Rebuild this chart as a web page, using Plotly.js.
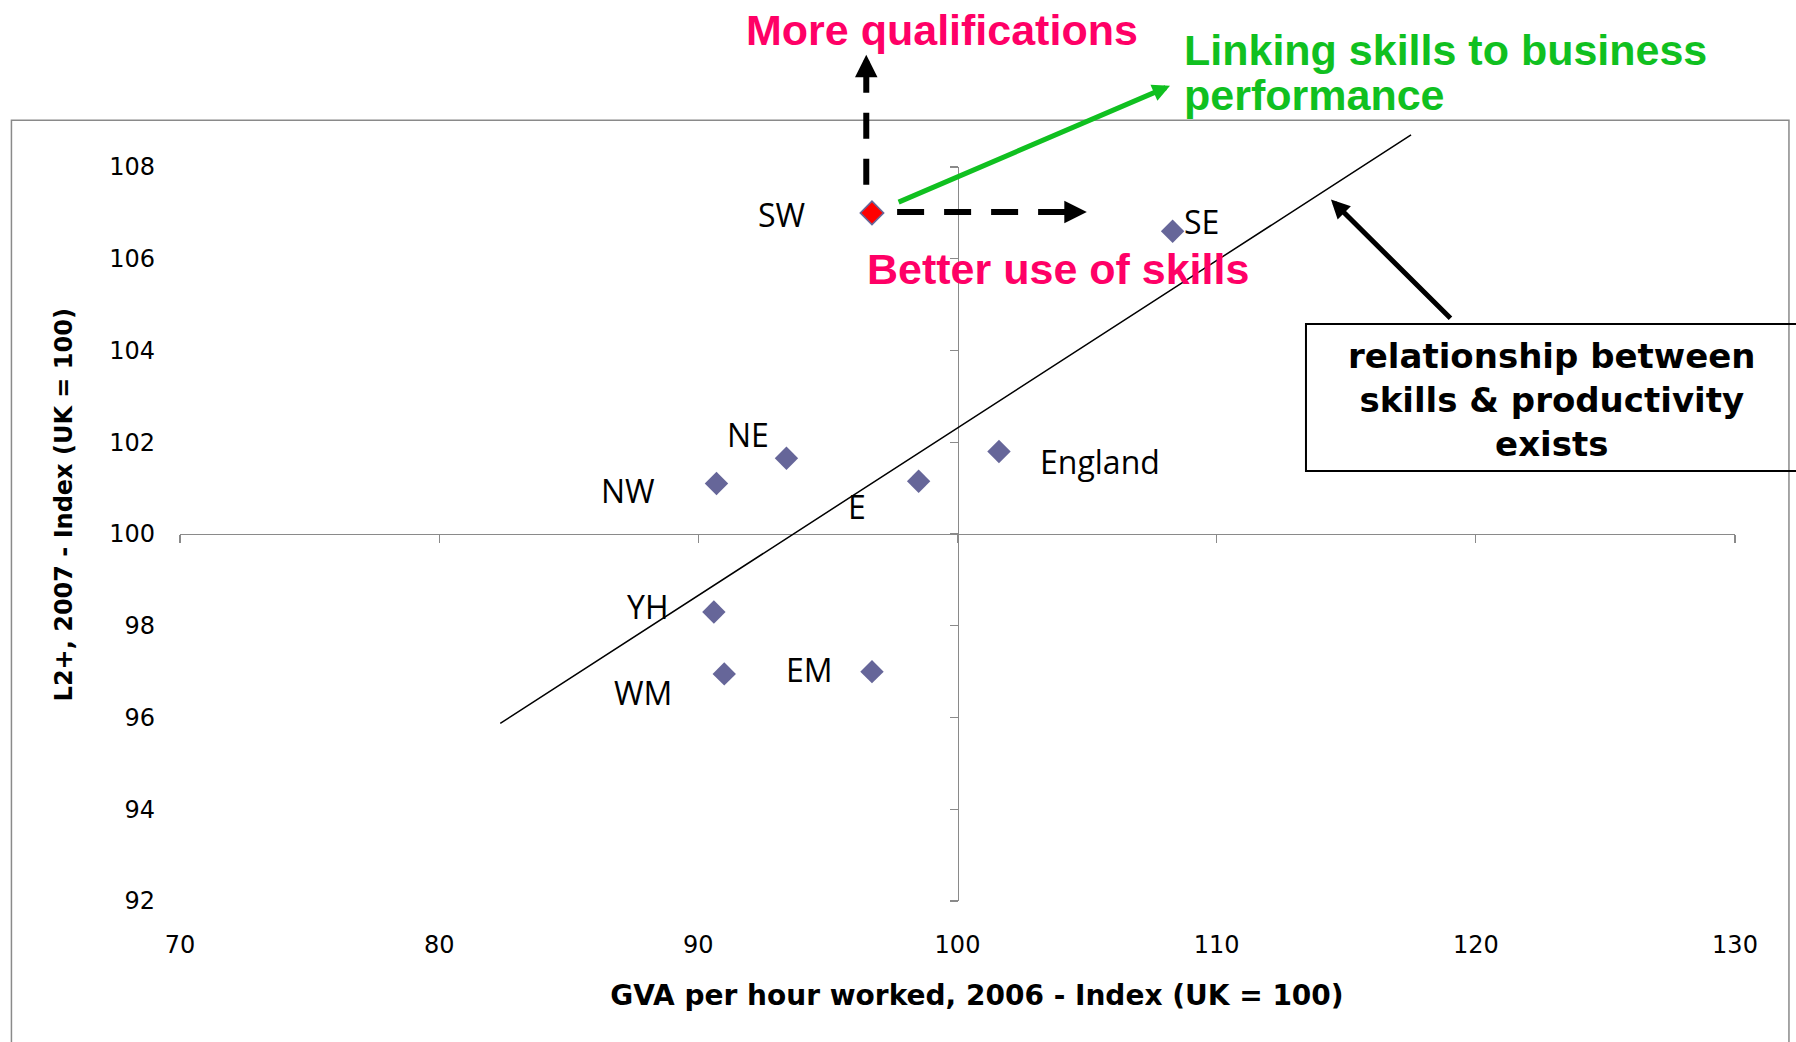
<!DOCTYPE html>
<html><head><meta charset="utf-8">
<script src="https://cdn.plot.ly/plotly-3.0.1.min.js"></script>
<style>html,body{margin:0;padding:0;background:#fff;} #chart{width:1796px;height:1042px;}</style>
</head><body><div id="chart"></div>
<script>
// ---- data ----
const regions  = ['SW', 'SE', 'NE', 'NW', 'E', 'England', 'YH', 'WM', 'EM'];
const gvaIndex = [96.7, 108.3, 93.4, 90.7, 98.5, 101.6, 90.6, 91.0, 96.7];
const l2Index  = [107.0, 106.6, 101.65, 101.1, 101.15, 101.8, 98.3, 96.95, 97.0];
const highlightedRegion = 'SW';
const trendX = [82.3, 117.5];
const trendY = [95.85, 108.7];
const xTicks = [70, 80, 90, 100, 110, 120, 130];
const yTicks = [92, 94, 96, 98, 100, 102, 104, 106, 108];
const xTitle = 'GVA per hour worked, 2006 - Index (UK = 100)';
const yTitle = 'L2+, 2007 - Index (UK = 100)';
const noteUp = 'More qualifications';
const noteRight = 'Better use of skills';
const noteLink = ['Linking skills to business', 'performance'];
const noteBox = 'relationship between<br>skills & productivity<br>exists';

// ---- label placement (pixel shifts from each point: [xshift, yshift], yshift up positive) ----
const labelShift = {
  'SW': [-90, -2], 'SE': [29, 10], 'NE': [-38, 24], 'NW': [-88, -7],
  'E': [-62, -25], 'England': [101, -10], 'YH': [-66, 5], 'WM': [-81, -19], 'EM': [-62, 2]
};

const BLUE = '#666699', RED = '#FF0000', AXIS = '#8a8a8a', PINK = '#FF0066', GREEN = '#10C020';
const X0 = 70, X1 = 130, Y0 = 92, Y1 = 108;
const NB = '\u00a0';

const traces = [
  {
    type: 'scatter', mode: 'markers', x: gvaIndex, y: l2Index, text: regions,
    xaxis: 'x', yaxis: 'y', showlegend: false, hoverinfo: 'text',
    marker: {
      symbol: 'diamond', size: 18,
      color: regions.map(r => r === highlightedRegion ? RED : BLUE),
      line: {color: BLUE, width: regions.map(r => r === highlightedRegion ? 1.5 : 0)}
    }
  },
  { type: 'scatter', mode: 'markers', x: [], y: [], xaxis: 'x2', yaxis: 'y2', showlegend: false, hoverinfo: 'skip' }
];

const annotations = regions.map((r, i) => ({
  x: gvaIndex[i], y: l2Index[i], xref: 'x', yref: 'y', text: r, showarrow: false,
  xanchor: 'center', yanchor: 'middle', xshift: labelShift[r][0], yshift: labelShift[r][1],
  font: {family: 'Open Sans', size: 32, color: '#000'}
}));

// trend line
annotations.push({x: trendX[1], y: trendY[1], xref: 'x', yref: 'y', ax: trendX[0], ay: trendY[0],
  axref: 'x', ayref: 'y', text: '', showarrow: true, arrowhead: 0, arrowwidth: 1.5, arrowcolor: '#000', standoff: 0});
// arrow heads of dashed arrows
annotations.push({x: 96.48, y: 1.1528, xref: 'x', yref: 'paper', ax: 0, ay: 19, text: '', showarrow: true,
  arrowhead: 2, arrowwidth: 6, arrowsize: 0.75, arrowcolor: '#000', standoff: 0});
annotations.push({x: 104.99, y: 107.02, xref: 'x', yref: 'y', ax: -20, ay: 0, text: '', showarrow: true,
  arrowhead: 2, arrowwidth: 6, arrowsize: 0.75, arrowcolor: '#000', standoff: 0});
// green arrow
annotations.push({x: 108.2, y: 109.77, xref: 'x', yref: 'y', ax: 97.67, ay: 107.22, axref: 'x', ayref: 'y',
  text: '', showarrow: true, arrowhead: 2, arrowwidth: 5, arrowsize: 0.7, arrowcolor: GREEN, standoff: 0});
// black arrow from box
annotations.push({x: 114.41, y: 107.29, xref: 'x', yref: 'y', ax: 119.08, ay: 104.67, axref: 'x', ayref: 'y',
  text: '', showarrow: true, arrowhead: 2, arrowwidth: 5, arrowsize: 0.75, arrowcolor: '#000', standoff: 0});
// texts
const bigFont = c => ({family: 'Liberation Sans, Arial', size: 43, color: c});
annotations.push({x: 0.490, y: 1.187, xref: 'paper', yref: 'paper', text: '<b>' + noteUp + '</b>', showarrow: false,
  xanchor: 'center', yanchor: 'middle', font: bigFont(PINK)});
annotations.push({x: 0.5646, y: 0.861, xref: 'paper', yref: 'paper', text: '<b>' + noteRight + '</b>', showarrow: false,
  xanchor: 'center', yanchor: 'middle', font: bigFont(PINK)});
annotations.push({x: 0.6444, y: 1.1597, xref: 'paper', yref: 'paper', text: '<b>' + noteLink[0] + '</b>', showarrow: false,
  xanchor: 'left', yanchor: 'middle', font: bigFont(GREEN)});
annotations.push({x: 0.6444, y: 1.0984, xref: 'paper', yref: 'paper', text: '<b>' + noteLink[1] + '</b>', showarrow: false,
  xanchor: 'left', yanchor: 'middle', font: bigFont(GREEN)});
annotations.push({x: 0.8823, y: 0.683, xref: 'paper', yref: 'paper', text: '<b>' + noteBox + '</b>', showarrow: false,
  xanchor: 'center', yanchor: 'middle', align: 'center', font: {family: 'DejaVu Sans', size: 34, color: '#000'}});

const shapes = [
  // chart frame
  {type: 'rect', xref: 'paper', yref: 'paper', x0: -0.1084, x1: 1.0347, y0: -0.4, y1: 1.0636,
   line: {color: AXIS, width: 1.5}, layer: 'below'},
  // text box
  {type: 'rect', xref: 'paper', yref: 'paper', x0: 0.7241, x1: 1.1, y0: 0.5858, y1: 0.786,
   line: {color: '#000', width: 2}, fillcolor: 'rgba(0,0,0,0)'},
  // dashed vertical arrow shaft
  {type: 'line', xref: 'x', yref: 'paper', x0: 96.48, x1: 96.48, y0: 0.9758, y1: 1.1297,
   line: {color: '#000', width: 6, dash: '26px,20px'}},
  // dashed horizontal arrow shaft
  {type: 'line', xref: 'x', yref: 'y', x0: 97.67, x1: 104.2, y0: 107.02, y1: 107.02,
   line: {color: '#000', width: 6, dash: '27px,20px'}}
];

const tickFont = {family: 'DejaVu Sans', size: 24, color: '#000'};
const layout = {
  width: 1796, height: 1042,
  margin: {l: 180, r: 61, t: 167, b: 141, pad: 0},
  paper_bgcolor: '#fff', plot_bgcolor: 'rgba(0,0,0,0)',
  showlegend: false,
  xaxis: {range: [X0, X1], anchor: 'free', position: 0.5, showline: true, linecolor: AXIS, linewidth: 1.3,
    ticks: 'outside', ticklen: 8, tickwidth: 1.3, tickcolor: AXIS, tickmode: 'array', tickvals: xTicks,
    showticklabels: false, showgrid: false, zeroline: false, layer: 'below traces', fixedrange: true},
  yaxis: {range: [Y0, Y1], anchor: 'free', position: 0.5, showline: true, linecolor: AXIS, linewidth: 1.3,
    ticks: 'outside', ticklen: 8, tickwidth: 1.3, tickcolor: AXIS, tickmode: 'array', tickvals: yTicks,
    showticklabels: false, showgrid: false, zeroline: false, layer: 'below traces', fixedrange: true},
  xaxis2: {overlaying: 'x', anchor: 'y2', side: 'bottom', range: [X0, X1], tickmode: 'array', tickvals: xTicks,
    ticks: '', showline: false, showgrid: false, zeroline: false, tickfont: tickFont, ticklabelstandoff: 27,
    title: {text: '<b>' + NB.repeat(4) + xTitle + '</b>', font: {family: 'DejaVu Sans', size: 28, color: '#000'}, standoff: 27},
    automargin: false, fixedrange: true},
  yaxis2: {overlaying: 'y', anchor: 'x2', side: 'left', range: [Y0, Y1], tickmode: 'array', tickvals: yTicks,
    ticks: '', showline: false, showgrid: false, zeroline: false, tickfont: tickFont, ticklabelstandoff: 24,
    title: {text: '<b>' + NB.repeat(7) + yTitle + '</b>', font: {family: 'DejaVu Sans', size: 24, color: '#000'}, standoff: 29},
    automargin: false, fixedrange: true},
  annotations: annotations,
  shapes: shapes
};

Plotly.newPlot('chart', traces, layout, {displayModeBar: false, staticPlot: true});
</script>
</body></html>
